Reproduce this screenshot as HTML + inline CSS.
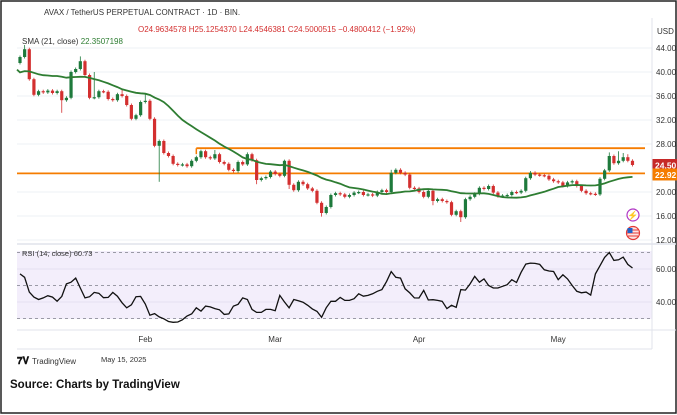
<!DOCTYPE html>
<html><head><meta charset="utf-8">
<style>
html,body{margin:0;padding:0;background:#fff;}
#wrap{position:relative;width:677px;height:415px;overflow:hidden;font-family:"Liberation Sans",sans-serif;}
svg text{font-family:"Liberation Sans",sans-serif;}
</style></head>
<body>
<div id="wrap">
<svg id="chart" width="677" height="415" viewBox="0 0 677 415">
  <rect x="0" y="0" width="677" height="415" fill="#fff"/>
  <rect x="1" y="1" width="675" height="412" fill="none" stroke="#222" stroke-width="1.5"/>
  <rect x="17" y="251" width="635" height="68" fill="#f3eefb"/>
  <g id="grid"></g>
  <g id="levels"></g>
  <g id="candles"></g>
  <path id="sma" fill="none" stroke="#2e7d32" stroke-width="1.8"/>
  <path id="rsi" fill="none" stroke="#111" stroke-width="1.3"/>
  <g id="axis"></g>
  <line x1="17" y1="244" x2="676" y2="244" stroke="#e0e3eb" stroke-width="1.5"/>
  <line x1="17" y1="330" x2="676" y2="330" stroke="#e0e3eb"/>
  <line x1="17" y1="349" x2="652" y2="349" stroke="#e0e3eb"/>
  <line x1="652" y1="18" x2="652" y2="349" stroke="#e0e3eb"/>
  <g id="timeaxis"></g>
  <text x="44" y="15" font-size="8" fill="#333">AVAX / TetherUS PERPETUAL CONTRACT · 1D · BIN.</text>
  <text x="138" y="32" font-size="8" fill="#d32f2f">O24.9634578  H25.1254370  L24.4546381  C24.5000515  −0.4800412 (−1.92%)</text>
  <text x="22" y="44" font-size="8" fill="#333">SMA (21, close) <tspan fill="#2e7d32">22.3507198</tspan></text>
  <text x="22" y="256" font-size="7.5" fill="#333">RSI (14, close) <tspan>60.73</tspan></text>
  <text x="657" y="34" font-size="8" fill="#333">USD</text>
  <g><circle cx="633" cy="215" r="6" fill="#fff" stroke="#b036c4" stroke-width="1.2"/><text x="633" y="218.5" font-size="9" fill="#b036c4" text-anchor="middle">⚡</text></g>
  <g><circle cx="633" cy="233" r="6.5" fill="#fde3e3" stroke="#e53935" stroke-width="1.2"/><path d="M627 233 h12 M628 230 h10 M628 236 h10" stroke="#e53935" stroke-width="1"/><rect x="627.5" y="228" width="5" height="5" fill="#1e63c9"/></g>
  <text x="17" y="364" font-size="10" font-weight="bold" fill="#111">𝟕𝐕</text>
  <text x="32" y="364" font-size="8" fill="#333">TradingView</text>
  <text x="101" y="362" font-size="7.5" fill="#333">May 15, 2025</text>
  <text x="10" y="388" font-size="11.5" font-weight="bold" fill="#111">Source: Charts by TradingView</text>
</svg>
</div>
<script>
// ---- data ----
const closes = [42.5,43.8,38.8,36.2,36.8,36.6,36.9,36.5,36.8,35.3,35.7,40.0,40.5,41.8,39.5,35.7,35.8,36.8,36.7,35.5,
35.3,36.3,36.0,34.5,32.2,32.8,35.0,35.2,32.2,27.7,28.5,26.5,26.0,24.7,24.5,24.6,24.3,25.2,25.8,26.8,
25.8,25.6,26.3,25.0,24.7,23.7,23.5,25.0,24.6,26.3,25.3,22.0,22.3,22.5,23.4,23.0,22.7,25.2,21.2,20.3,
21.7,21.3,20.6,20.2,18.2,16.5,17.5,19.5,19.8,19.6,19.2,19.5,19.9,20.0,19.5,19.6,19.4,20.0,20.3,20.0,
23.2,23.7,23.2,22.9,20.7,20.6,20.0,19.2,20.2,18.5,18.8,18.5,18.3,16.2,16.8,15.8,18.8,19.2,19.7,20.7,
20.5,21.0,19.9,19.3,19.4,19.5,20.0,19.9,20.2,22.3,23.2,22.9,22.8,22.7,22.1,21.8,21.6,21.0,21.6,21.8,
21.0,20.2,19.8,19.7,19.6,22.2,23.6,26.0,24.8,25.2,25.8,25.2,24.5];
const firstOpen = 41.5;
const priorCloses = [39,40,41,42,40,38,38,37,38,39,38,40,41,40,39,40,41,42,41,42];
const wickHigh = {1:44.5,13:42.6,16:40.0,22:37.0,27:36.4,42:27.0,49:26.6,57:25.4,80:23.7,110:23.5,127:26.6,129:26.8,130:26.5,131:26.3};
const wickLow = {9:33.2,30:21.7,51:21.3,58:20.5,65:15.9,95:15.0,89:17.8,47:23.2};
const rsiValues = [57,55,46,43,41.5,42.5,43.8,43,40.5,43.4,51,52,54.5,48.5,42.5,43.2,45.8,45.3,42.6,42.8,
45.8,43.5,39.5,36.5,38.3,43.2,43.4,38.8,32,33,31,29.8,28.2,27.7,27.9,29.2,31.5,32.8,36.5,34.5,
37.5,37,36,35.3,32.5,32.8,37.5,38.6,42.5,41.5,35.5,33.7,33.7,35.5,35.5,34.7,44,40,36.5,41.5,
40.8,39.9,38,35.8,34.3,30.7,36.5,40.4,40.4,42.8,41,41,42,45,43.5,44,45,46.5,47.5,52.5,
58.4,55,54.5,48,45.5,42.5,42.4,47,41.2,41.4,41,40.4,36,38,36.8,47.5,47.2,51,55.5,52,
54,50,48.5,48.5,49.5,50.5,53.5,51.8,58,63,63.6,63.4,62.8,59.5,58.8,58.5,53.5,56.5,54,50,
46.5,45.6,46,44.2,57,62,67,70,65.2,65.6,67.2,62.8,60.6];
const priceTicks = [44,40,36,32,28,20,16,12];
const rsiTicks = [60,40];
const rsiLevels = [70,50,30];
const monthLabels = ["Feb","Mar","Apr","May"];
const monthIndex = [27,55,86,116];
const resistance = 27.3, support = 23.1, resistanceStart = 38;
const lastPrice = 24.50, supportLabel = 22.92;
const smaPeriod = 21;
// ---- scales ----
const xOf = i => 20 + 4.64*i;
const yP = p => 48 + (44 - p)*6;
const yR = v => 269 + (60 - v)*1.65;
const NS = "http://www.w3.org/2000/svg";
function mk(tag, attrs, parent){const e=document.createElementNS(NS,tag);for(const k in attrs)e.setAttribute(k,attrs[k]);parent.appendChild(e);return e;}
const grid=document.getElementById('grid'), axis=document.getElementById('axis');
priceTicks.forEach(t=>{
  const l=mk('line',{x1:17,x2:652,y1:yP(t),y2:yP(t),stroke:'#eef0f4'},grid);
  
  
  const tx=mk('text',{x:656,y:yP(t)+3,'font-size':8,fill:'#333'},axis);
  tx.textContent=t.toFixed(2);
  
  
});
rsiLevels.forEach(v=>{
  const l=mk('line',{x1:17,x2:652,y1:yR(v),y2:yR(v),stroke:'#9a9aa6','stroke-dasharray':'3,3'},grid);
  
  
});
rsiTicks.forEach(v=>{
  const l=mk('line',{x1:17,x2:652,y1:yR(v),y2:yR(v),stroke:'#e6e0f0'},grid);
  
  
  const tx=mk('text',{x:656,y:yR(v)+3,'font-size':8,fill:'#333'},axis);
  tx.textContent=v.toFixed(2);
  
  
});
// levels
const lv=document.getElementById('levels');
const r=mk('line',{x1:xOf(resistanceStart),x2:645,y1:yP(resistance),y2:yP(resistance),stroke:'#f57c00','stroke-width':1.8},lv);


const rv=mk('line',{x1:xOf(resistanceStart),x2:xOf(resistanceStart),y1:yP(resistance),y2:yP(resistance)+6,stroke:'#f57c00','stroke-width':1.5},lv);


const s=mk('line',{x1:17,x2:645,y1:yP(support),y2:yP(support),stroke:'#f57c00','stroke-width':1.8},lv);


// candles
const cg=document.getElementById('candles');
closes.forEach((c,i)=>{
  const o = i===0 ? firstOpen : closes[i-1];
  const up = c>=o, col = up ? '#1e7a3c' : '#d32f2f';
  const hi = wickHigh[i]!==undefined ? wickHigh[i] : Math.max(o,c)+0.25;
  const lo = wickLow[i]!==undefined ? wickLow[i] : Math.min(o,c)-0.25;
  const x=xOf(i);
  const w=mk('line',{x1:x,x2:x,y1:yP(hi),y2:yP(lo),stroke:col,'stroke-width':0.8},cg);
  
  
  const top=yP(Math.max(o,c)), h=Math.max(1.2,Math.abs(yP(o)-yP(c)));
  const b=mk('rect',{x:x-1.6,y:top,width:3.2,height:h,fill:col},cg);
  
  
});
// sma
const all=priorCloses.concat(closes);
let d='';
closes.forEach((c,i)=>{
  const j=i+priorCloses.length; let sum=0,n=0;
  for(let k=Math.max(0,j-smaPeriod+1);k<=j;k++){sum+=all[k];n++;}
  d+=(i?'L':'M')+xOf(i).toFixed(1)+' '+yP(sum/n).toFixed(1);
});
document.getElementById('sma').setAttribute('d','M17 '+yP(40.4).toFixed(1)+' L'+d.slice(1));
// rsi
document.getElementById('rsi').setAttribute('d',rsiValues.map((v,i)=>(i?'L':'M')+xOf(i).toFixed(1)+' '+yR(v).toFixed(1)).join(''));
// price labels
function tag(p,bg,name){
  const g=mk('g',{},axis);
  
  
  mk('rect',{x:652,y:yP(p)-6,width:25,height:12,fill:bg},g);
  const t=mk('text',{x:655,y:yP(p)+3.5,'font-size':8.5,'font-weight':'bold',fill:'#fff'},g);
  t.textContent=p.toFixed(2);
}
tag(lastPrice,'#c62828','last-price-label');
tag(supportLabel,'#f57c00','support-price-label');
// time axis
const ta=document.getElementById('timeaxis');
monthLabels.forEach((m,k)=>{
  const t=mk('text',{x:xOf(monthIndex[k]),y:342,'font-size':8,fill:'#333','text-anchor':'middle'},ta);
  t.textContent=m;
  
  
});
</script>
</body></html>
